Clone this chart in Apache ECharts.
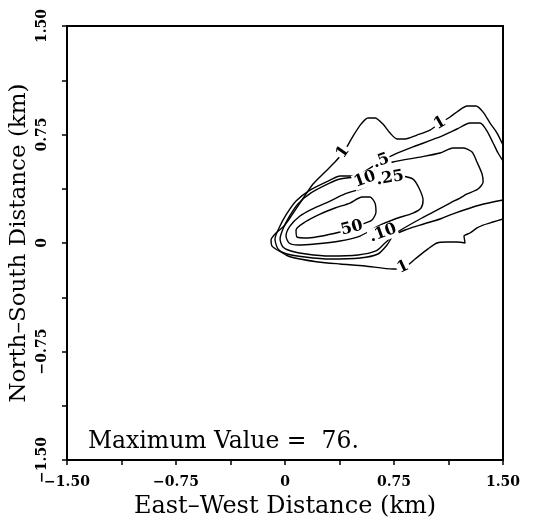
<!DOCTYPE html>
<html>
<head>
<meta charset="utf-8">
<script src="https://cdn.jsdelivr.net/npm/echarts@6/dist/echarts.min.js"></script>
<style>
html,body{margin:0;padding:0;background:#fff;}
#chart{width:534px;height:522px;}
</style>
</head>
<body>
<div id="chart"></div>
<script>
// Axis ticks (km)
var tickValues = [-1.5, -0.75, 0, 0.75, 1.5];
var maxValueText = 'Maximum Value =  76.';

// Contour levels and their traced lines [east-west km, north-south km]
var contour1 = [[1.500,0.677],[1.459,0.760],[1.411,0.829],[1.363,0.905],[1.314,0.947],[1.253,0.947],[1.191,0.912],[1.136,0.871],[1.067,0.829],[0.998,0.781],[0.908,0.746],[0.826,0.719],[0.771,0.719],[0.723,0.760],[0.674,0.822],[0.619,0.864],[0.571,0.864],[0.523,0.822],[0.468,0.739],[0.413,0.643],[0.344,0.560],[0.275,0.491],[0.193,0.408],[0.117,0.297],[0.048,0.194],[-0.007,0.117],[-0.062,0.069],[-0.096,0.021],[-0.089,-0.021],[-0.041,-0.055],[0.021,-0.090],[0.103,-0.111],[0.227,-0.131],[0.379,-0.145],[0.551,-0.159],[0.743,-0.180],[0.826,-0.166],[0.895,-0.111],[0.984,-0.041],[1.046,0.000],[1.115,0.007],[1.184,0.007],[1.239,0.000],[1.232,0.048],[1.273,0.069],[1.321,0.104],[1.363,0.124],[1.431,0.145],[1.500,0.166]];
var contour5 = [[1.500,0.567],[1.466,0.622],[1.432,0.691],[1.390,0.774],[1.342,0.829],[1.273,0.829],[1.184,0.788],[1.046,0.726],[0.881,0.664],[0.743,0.608],[0.661,0.567],[0.585,0.518],[0.482,0.463],[0.379,0.463],[0.310,0.435],[0.172,0.366],[0.076,0.290],[0.007,0.194],[-0.041,0.104],[-0.069,0.028],[-0.048,-0.041],[0.014,-0.076],[0.138,-0.097],[0.310,-0.111],[0.516,-0.104],[0.640,-0.076],[0.702,-0.014],[0.743,0.048],[0.826,0.090],[0.929,0.124],[1.067,0.166],[1.170,0.207],[1.342,0.263],[1.500,0.297]];
var contour10 = [[0.496,0.456],[0.379,0.442],[0.310,0.415],[0.179,0.346],[0.089,0.270],[0.028,0.180],[-0.014,0.097],[-0.034,0.028],[-0.014,-0.028],[0.041,-0.055],[0.145,-0.076],[0.310,-0.090],[0.502,-0.083],[0.626,-0.055],[0.681,-0.007],[0.764,0.069],[0.929,0.166],[1.019,0.214],[1.136,0.276],[1.204,0.311],[1.253,0.339],[1.328,0.373],[1.363,0.422],[1.356,0.477],[1.321,0.560],[1.287,0.629],[1.225,0.657],[1.156,0.657],[1.067,0.622],[0.929,0.594],[0.743,0.560],[0.640,0.518],[0.496,0.456]];
var contour25 = [[0.805,0.463],[0.881,0.442],[0.922,0.380],[0.950,0.297],[0.936,0.242],[0.881,0.207],[0.757,0.166],[0.640,0.117],[0.516,0.048],[0.379,0.014],[0.206,-0.007],[0.089,-0.014],[0.028,0.000],[0.007,0.048],[0.034,0.117],[0.103,0.187],[0.186,0.235],[0.310,0.290],[0.413,0.339],[0.516,0.373],[0.640,0.428],[0.723,0.449],[0.805,0.463]];
var contour50 = [[0.379,0.076],[0.468,0.104],[0.551,0.138],[0.599,0.159],[0.626,0.214],[0.619,0.276],[0.585,0.318],[0.530,0.318],[0.447,0.276],[0.344,0.242],[0.241,0.200],[0.138,0.145],[0.076,0.090],[0.083,0.041],[0.158,0.035],[0.255,0.048],[0.379,0.076]];

// Contour labels: [x km, y km, text, angle]
var contourLabels = [
  [0.399, 0.629, '1', 55],
  [1.067, 0.829, '1', 30],
  [0.661, 0.567, '.5', 20],
  [0.550, 0.440, '10', 20],
  [0.723, 0.449, '.25', 10],
  [0.461, 0.104, '50', 15],
  [0.674, 0.069, '.10', 20],
  [0.812, -0.166, '1', 25]
];

var serif = 'DejaVu Serif';
function fmt(v) {
  var r = v / 0.75;
  if (Math.abs(r - Math.round(r)) > 1e-6) return '';
  if (Math.abs(v) < 1e-9) return '0';
  return (v < 0 ? '\u2212' : '') + Math.abs(v).toFixed(2);
}

var lines = [contour1, contour5, contour10, contour25, contour50].map(function (d) {
  return {
    type: 'line', data: d, showSymbol: false, smooth: 0.25,
    lineStyle: { color: '#000', width: 1.4 }, silent: true, z: 2
  };
});

var chart = echarts.init(document.getElementById('chart'), null, { renderer: 'canvas' });
chart.setOption({
  backgroundColor: '#fff',
  animation: false,
  grid: { left: 67, right: 31, top: 26, bottom: 62, show: true, borderColor: '#000', borderWidth: 2,
          containLabel: false, outerBoundsMode: 'none' },
  xAxis: {
    type: 'value', min: -1.5, max: 1.5, interval: 0.375,
    name: 'East\u2013West Distance (km)', nameLocation: 'middle', nameGap: 35, nameMoveOverlap: false,
    nameTextStyle: { fontFamily: serif, fontSize: 24, color: '#000' },
    axisLine: { onZero: false, lineStyle: { color: '#000', width: 2 } },
    axisTick: { show: true, length: 5, lineStyle: { color: '#000', width: 1.5 } },
    axisLabel: { formatter: fmt, fontFamily: serif, fontSize: 14, fontWeight: 'bold', color: '#000', margin: 15 },
    splitLine: { show: false }
  },
  yAxis: {
    type: 'value', min: -1.5, max: 1.5, interval: 0.375,
    name: 'North\u2013South Distance (km)', nameLocation: 'middle', nameGap: 36, nameRotate: 90, nameMoveOverlap: false,
    nameTextStyle: { fontFamily: serif, fontSize: 23, color: '#000' },
    axisLine: { onZero: false, lineStyle: { color: '#000', width: 2 } },
    axisTick: { show: true, length: 5, lineStyle: { color: '#000', width: 1.5 } },
    axisLabel: { formatter: fmt, fontFamily: serif, fontSize: 14, fontWeight: 'bold', color: '#000', rotate: 90, margin: 18 },
    splitLine: { show: false }
  },
  graphic: [{
    type: 'text', left: 88, top: 430,
    style: { text: maxValueText, font: '23.5px "DejaVu Serif"', fill: '#000' }
  }],
  series: lines.concat([{
    type: 'scatter', silent: true, z: 5,
    symbolSize: 1, itemStyle: { color: 'rgba(0,0,0,0)' },
    data: contourLabels.map(function (l) { return { value: [l[0], l[1]], name: l[2],
      label: { rotate: l[3] } }; }),
    label: {
      show: true, position: 'inside', formatter: function (p) { return p.name; },
      fontFamily: serif, fontSize: 16, fontWeight: 'bold', color: '#000', opacity: 1,
      textBorderWidth: 0, backgroundColor: '#fff', padding: [0, 1]
    }
  }])
});
</script>
</body>
</html>
